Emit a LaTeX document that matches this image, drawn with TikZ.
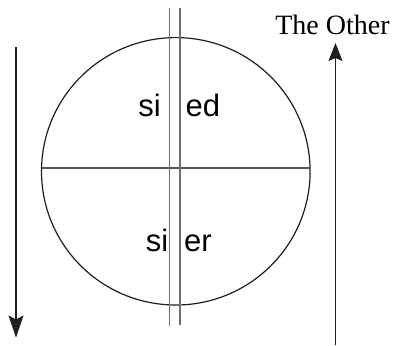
\documentclass[tikz,border=0pt]{standalone}
\usepackage{fontspec}
\setmainfont{Liberation Serif}
\setsansfont{Liberation Sans}
\usepackage{xcolor}
\definecolor{rimgray}{RGB}{30,30,30}
\definecolor{axisgray}{RGB}{85,85,85}
\definecolor{railgray}{RGB}{110,110,110}
\usetikzlibrary{arrows.meta}

\begin{document}
\begin{tikzpicture}[x=1pt,y=-1pt,
  flow/.style={draw=rimgray,line width=1.4pt},
  word/.style={font=\sffamily\fontsize{31}{36}\selectfont,inner sep=0pt},
  rail/.style={draw=railgray,line width=1.2pt}]
  \useasboundingbox (0,0) rectangle (393,345);
  \draw[rimgray,line width=1.2pt] (175.8,171.3) ellipse [x radius=134.3,y radius=133.7];
  \draw[axisgray,line width=1.2pt] (41.5,168) -- (310,168);
  \draw[rail] (169.5,8) -- (169.5,326);
  \draw[rail] (180,8) -- (180,324.5);
  \node[word,anchor=base east] (siup) at (161,116) {si};
  \node[word,anchor=base west] (ed) at (185.5,116) {ed};
  \node[word,anchor=base east] (silow) at (168.5,251.7) {si};
  \node[word,anchor=base west] (er) at (184,251.7) {er};
  \node[font=\fontsize{28}{32}\selectfont,inner sep=0pt,anchor=base] (other) at (332.5,34.5) {The Other};
  \coordinate (downtop) at (16,47);
  \coordinate (downend) at (16,337.5);
  \coordinate (uptop) at (335.5,43);
  \coordinate (upend) at (335.5,345);
  \draw[flow,-{Stealth[length=22pt,width=15pt,inset=4pt]}] (downtop) -- (downend);
  \draw[flow,-{Stealth[length=18pt,width=14pt,inset=3pt]}] (upend) -- (uptop);
\end{tikzpicture}
\end{document}
